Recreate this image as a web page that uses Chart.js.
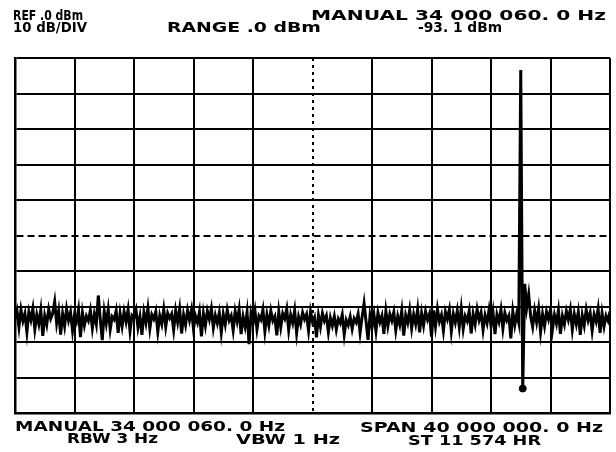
<!DOCTYPE html>
<html><head><meta charset="utf-8">
<script src="https://cdn.jsdelivr.net/npm/chart.js@4.4.1/dist/chart.umd.min.js"></script>
<style>
html,body{margin:0;padding:0;background:#fff;}
#wrap{position:relative;width:616px;height:452px;}
canvas{position:absolute;left:0;top:0;}
svg{position:absolute;left:0;top:0;pointer-events:none;}
svg text{font-family:"DejaVu Sans",sans-serif;font-weight:bold;font-size:13.5px;fill:#000;}
</style></head><body>
<div id="wrap"><canvas id="c" width="616" height="452"></canvas>
<svg id="labels" width="616" height="452" xmlns="http://www.w3.org/2000/svg"></svg></div>
<script>
// Trace levels (dBm), read across the sweep, left to right
const levelsDbm = [
-73.5,-71.2,-75.8,-70.9,-74.1,-72.0,-77.2,-71.5,-73.8,-70.6,-76.4,-72.3,-74.9,-71.0,-78.3,-72.6,-75.1,-70.8,-73.4,-71.9,
-68.6,-74.7,-71.3,-77.9,-72.1,-75.5,-70.7,-73.9,-71.6,-76.8,-72.4,-74.2,-70.9,-78.6,-71.8,-75.3,-72.7,-74.0,-71.1,-76.1,
-72.2,-75.0,-66.9,-73.6,-79.5,-71.4,-74.8,-70.8,-76.5,-72.9,-73.7,-71.2,-77.4,-72.0,-75.6,-71.5,-74.3,-70.9,-76.9,-72.5,
-73.1,-71.0,-75.9,-72.8,-78.0,-71.7,-74.6,-70.5,-76.2,-72.3,-73.5,-71.4,-77.1,-72.6,-74.9,-70.8,-75.7,-71.9,-73.3,-72.1,
-76.6,-71.2,-74.4,-70.7,-77.6,-72.4,-75.2,-71.1,-73.8,-70.9,-76.3,-72.7,-74.5,-71.5,-78.4,-72.0,-75.4,-71.3,-73.6,-70.6,
-76.0,-72.5,-74.7,-71.8,-77.3,-72.2,-75.1,-71.0,-73.9,-72.6,-76.7,-71.4,-74.2,-70.8,-77.8,-72.9,-75.6,-71.6,-80.6,-72.1,
-74.8,-71.3,-76.4,-72.7,-73.7,-70.9,-77.0,-72.3,-75.3,-71.2,-74.0,-72.8,-78.1,-71.5,-75.8,-72.0,-73.4,-70.7,-76.6,-72.4,
-74.6,-71.1,-77.5,-72.9,-75.0,-71.7,-73.6,-72.2,-76.8,-71.4,-74.3,-73.0,-78.7,-72.5,-75.7,-71.9,-74.1,-72.6,-77.2,-73.2,
-75.4,-72.8,-76.5,-73.5,-74.7,-72.3,-77.9,-73.8,-75.2,-72.9,-76.3,-73.4,-74.5,-72.1,-77.4,-73.0,-69.1,-74.2,-79.4,-72.7,
-75.9,-72.4,-76.9,-71.8,-74.4,-72.6,-77.7,-71.3,-75.5,-72.2,-74.0,-71.6,-76.7,-72.8,-75.1,-71.2,-78.2,-72.5,-74.6,-71.0,
-76.1,-72.3,-74.9,-70.8,-77.3,-71.9,-75.3,-71.4,-73.7,-72.0,-78.5,-71.1,-75.6,-70.7,-74.2,-72.4,-76.8,-71.5,-73.5,-70.9,
-77.0,-72.1,-74.5,-71.2,-75.8,-70.6,-76.3,-72.7,-74.1,-71.3,-77.6,-72.2,-75.0,-70.8,-73.8,-71.7,-76.6,-72.5,-74.7,-71.0,
-75.4,-71.6,-77.8,-72.3,-74.3,-70.9,-76.2,-71.8,-73.9,-72.6,-79.0,-71.4,-75.2,-72.0,-74.6,-3.4,-93.1,-63.6,-70.4,-66.6,
-72.8,-75.7,-71.2,-74.4,-70.7,-77.1,-72.2,-75.5,-71.5,-73.6,-70.9,-76.4,-72.4,-74.8,-71.1,-77.7,-72.7,-75.0,-71.3,-73.7,
-70.8,-76.5,-72.1,-74.9,-71.6,-78.0,-72.5,-75.3,-70.9,-73.9,-71.8,-76.8,-72.3,-74.2,-70.7,-77.4,-71.9,-75.6,-72.6,-74.0,
-71.4
];
const spanMHz = 40;          // SPAN 40 000 000.0 Hz
const refLevelDbm = 0;       // REF .0 dBm
const dbPerDiv = 10;         // 10 dB/DIV
const divisions = 10;
const markerIndex = [256];
const markerLevelDbm = [-93.1];

const headerTexts = ["REF .0 dBm", "10 dB/DIV", "RANGE .0 dBm", "MANUAL 34 000 060. 0 Hz", "-93. 1 dBm"];
const footerTexts = ["MANUAL 34 000 060. 0 Hz", "RBW 3 Hz", "VBW 1 Hz", "SPAN 40 000 000. 0 Hz", "ST 11 574 HR"];

// text placement: [x, baseline y, fitted width]
const headerPlace = [[13,20,70],[13,32,74],[167,32,154],[311,20,295],[418,32,84]];
const footerPlace = [[15,431,270],[67,443,91],[236,444,104],[360,432,243],[408,445,133]];

const n = levelsDbm.length;
const stepMHz = spanMHz / (n - 1);
const trace = levelsDbm.map((v, i) => ({x: i * stepMHz, y: v}));
const marker = markerIndex.map((idx, k) => ({x: idx * stepMHz, y: markerLevelDbm[k]}));

new Chart(document.getElementById('c'), {
  type: 'line',
  data: {datasets: [
    {data: marker, showLine: false, pointRadius: 3.5, pointBackgroundColor: '#000', pointBorderColor: '#000', order: 0},
    {data: trace, borderColor: '#000', borderWidth: 3, pointRadius: 0, tension: 0, order: 1}
  ]},
  options: {
    responsive: false, animation: false, devicePixelRatio: 1,
    layout: {padding: {left: 15, right: 6, top: 58, bottom: 39}},
    plugins: {legend: {display: false}, tooltip: {enabled: false}},
    scales: {
      x: {type: 'linear', min: 0, max: spanMHz,
          ticks: {display: false, stepSize: spanMHz / divisions},
          grid: {color: '#000', lineWidth: 2, drawTicks: false},
          border: {color: '#000', width: 2.5,
                   dash: ctx => (ctx.tick && Math.abs(ctx.tick.value - spanMHz / 2) < 1e-6) ? [3, 4] : []}},
      y: {type: 'linear', min: refLevelDbm - dbPerDiv * divisions, max: refLevelDbm,
          ticks: {display: false, stepSize: dbPerDiv},
          grid: {color: '#000', lineWidth: 2, drawTicks: false},
          border: {color: '#000', width: 2.5,
                   dash: ctx => (ctx.tick && Math.abs(ctx.tick.value - (refLevelDbm - dbPerDiv * divisions / 2)) < 1e-6) ? [7, 4] : []}}
    }
  }
});

const svg = document.getElementById('labels');
function addText(str, p) {
  const t = document.createElementNS('http://www.w3.org/2000/svg', 'text');
  t.setAttribute('x', p[0]); t.setAttribute('y', p[1]);
  t.setAttribute('textLength', p[2]); t.setAttribute('lengthAdjust', 'spacingAndGlyphs');
  t.textContent = str;
  svg.appendChild(t);
}
headerTexts.forEach((s, i) => addText(s, headerPlace[i]));
footerTexts.forEach((s, i) => addText(s, footerPlace[i]));
</script>
</body></html>
